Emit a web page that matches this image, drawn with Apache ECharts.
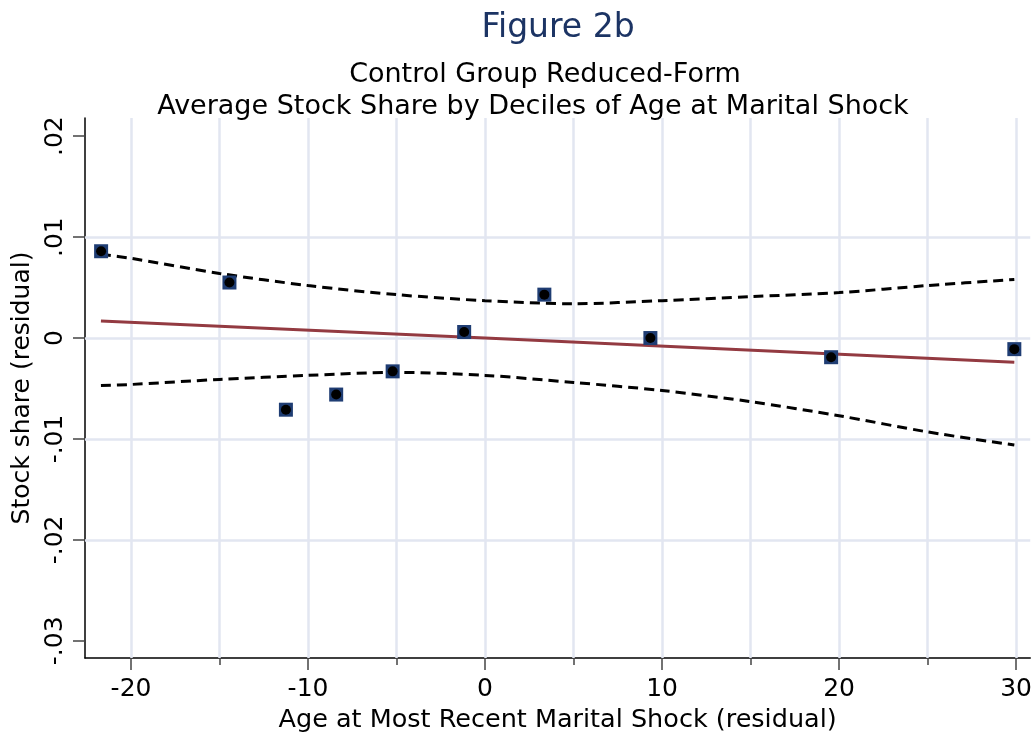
<!DOCTYPE html>
<html>
<head>
<meta charset="utf-8">
<script src="https://cdn.jsdelivr.net/npm/echarts@6/dist/echarts.min.js"></script>
<style>
  html, body { margin: 0; padding: 0; background: #fff; }
  #container { width: 1035px; height: 738px; }
</style>
</head>
<body>
<div id="container"></div>
<script>
  // decile means (age residual, stock share residual)
  var pointX = [-21.69, -14.44, -11.25, -8.41, -5.22, -1.18, 3.35, 9.34, 19.55, 29.9];
  var pointY = [0.0086, 0.0055, -0.0071, -0.0056, -0.0033, 0.0006, 0.0043, 0.0000, -0.0019, -0.0011];

  // linear fit and its confidence band
  var fitX = [-21.7, 0, 29.9];
  var fitY = [0.0017, 0.0000, -0.0024];
  var bandX = [-21.7, -20, -15, -10, -5, 0, 5, 10, 15, 20, 25, 29.9];
  var bandUpper = [0.0083, 0.0079, 0.0064, 0.0052, 0.0043, 0.0037, 0.0034, 0.0037, 0.0041, 0.0045, 0.0052, 0.0058];
  var bandLower = [-0.0047, -0.0046, -0.0041, -0.0037, -0.0034, -0.0037, -0.0044, -0.0052, -0.0063, -0.0077, -0.0093, -0.0106];

  var xMajorTicks = [-20, -10, 0, 10, 20, 30];
  var xMinorTicks = [-15, -5, 5, 15, 25];
  var xGridLines = [-20, -15, -10, -5, 0, 5, 10, 15, 20, 25, 30];
  var yTicks = [-0.03, -0.02, -0.01, 0, 0.01, 0.02];
  var yGridLines = [-0.02, -0.01, 0, 0.01];

  var font = 'DejaVu Sans';
  var gridColor = '#e2e6f1';

  function zip(xs, ys) {
    return xs.map(function (x, i) { return [x, ys[i]]; });
  }

  var dom = document.getElementById('container');
  var myChart = echarts.init(dom, null, {
    renderer: 'canvas',
    useDirtyRect: false
  });

  var option;

  option = {
    animation: false,
    backgroundColor: '#fff',
    title: [
      {
        text: 'Figure 2b',
        left: 553, top: 7, textAlign: 'center',
        textStyle: { fontFamily: font, fontSize: 33, fontWeight: 'normal', color: '#1c3464' }
      },
      {
        text: 'Control Group Reduced-Form',
        left: 540, top: 56, textAlign: 'center',
        textStyle: { fontFamily: font, fontSize: 27, fontWeight: 'normal', color: '#000' }
      },
      {
        text: 'Average Stock Share by Deciles of Age at Marital Shock',
        left: 528, top: 88, textAlign: 'center',
        textStyle: { fontFamily: font, fontSize: 27, fontWeight: 'normal', color: '#000' }
      }
    ],
    grid: { left: 85, right: 0, top: 118, bottom: 80 },
    xAxis: [
      {
        type: 'value',
        position: 'bottom',
        min: -22.6,
        max: 30.8,
        name: 'Age at Most Recent Marital Shock (residual)',
        nameLocation: 'middle',
        nameGap: 44,
        nameTextStyle: { fontFamily: font, fontSize: 25.5, color: '#000' },
        axisLine: { onZero: false, lineStyle: { color: '#000', width: 1.5 } },
        axisTick: { customValues: xMajorTicks, length: 12, lineStyle: { color: '#444', width: 1.5 } },
        axisLabel: { customValues: xMajorTicks, margin: 19, fontFamily: font, fontSize: 25, color: '#000' },
        splitLine: { show: false }
      },
      {
        type: 'value',
        position: 'bottom',
        min: -22.6,
        max: 30.8,
        axisLine: { show: false, onZero: false },
        axisTick: { customValues: xMinorTicks, length: 7, lineStyle: { color: '#444', width: 1.5 } },
        axisLabel: { show: false },
        splitLine: { show: false }
      }
    ],
    yAxis: {
      type: 'value',
      min: -0.0317,
      max: 0.0218,
      name: 'Stock share (residual)',
      nameLocation: 'middle',
      nameRotate: 90,
      nameGap: 47,
      nameTextStyle: { fontFamily: font, fontSize: 25, color: '#000' },
      axisLine: { show: true, onZero: false, lineStyle: { color: '#000', width: 1.5 } },
      axisTick: { show: true, customValues: yTicks, length: 12, lineStyle: { color: '#444', width: 1.5 } },
      axisLabel: {
        customValues: yTicks,
        rotate: 90,
        margin: 17,
        fontFamily: font,
        fontSize: 25,
        color: '#000',
        formatter: function (v) {
          if (Math.abs(v) < 1e-9) return '0';
          return (v < 0 ? '-' : '') + Math.abs(v).toFixed(2).replace(/^0/, '');
        }
      },
      splitLine: { show: false }
    },
    series: [
      {
        // grid lines
        type: 'line',
        data: [],
        markLine: {
          silent: true,
          z: 1,
          symbol: 'none',
          label: { show: false },
          lineStyle: { color: gridColor, width: 2.5, type: 'solid' },
          data: xGridLines.map(function (v) { return { xAxis: v }; })
            .concat(yGridLines.map(function (v) { return { yAxis: v }; }))
        }
      },
      {
        name: 'upper',
        type: 'line',
        data: zip(bandX, bandUpper),
        smooth: 0.3,
        showSymbol: false,
        lineStyle: { color: '#000', width: 3, type: [10, 6] },
        z: 3
      },
      {
        name: 'lower',
        type: 'line',
        data: zip(bandX, bandLower),
        smooth: 0.3,
        showSymbol: false,
        lineStyle: { color: '#000', width: 3, type: [10, 6] },
        z: 3
      },
      {
        name: 'fit',
        type: 'line',
        data: zip(fitX, fitY),
        showSymbol: false,
        lineStyle: { color: '#933a41', width: 3 },
        z: 3
      },
      {
        type: 'scatter',
        data: zip(pointX, pointY),
        symbol: 'rect',
        symbolSize: 14,
        itemStyle: { color: '#1f3d73', opacity: 1 },
        z: 4
      },
      {
        type: 'scatter',
        data: zip(pointX, pointY),
        symbol: 'circle',
        symbolSize: 10,
        itemStyle: { color: '#000', opacity: 1 },
        z: 5
      }
    ]
  };

  if (option && typeof option === 'object') {
    myChart.setOption(option);
  }

  window.addEventListener('resize', myChart.resize);
</script>
</body>
</html>
